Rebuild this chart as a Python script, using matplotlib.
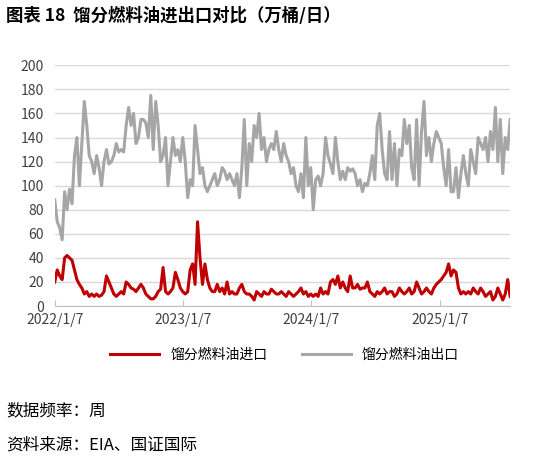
import matplotlib
matplotlib.use("Agg")
import matplotlib.pyplot as plt
import pandas as pd

plt.rcParams['font.family'] = ['Noto Sans CJK SC', 'DejaVu Sans']

year_starts = ["2022-01-07", "2023-01-06", "2024-01-05", "2025-01-03"]
exp_2022 = [88,70,65,55,95,80,97,85,125,140,100,135,170,150,125,120,110,125,115,100,120,130,118,120,125,135,128,130,128,150,165,150,160,135,140,155,155,152,140,175,130,170,150,120,125,140,100,120,140,125,130,120]
exp_2023 = [140,120,90,105,100,150,130,110,115,100,95,100,105,110,100,105,115,112,105,110,105,100,110,90,115,155,100,135,120,150,140,160,130,140,120,130,135,130,145,130,120,135,125,120,110,115,100,95,110,90,140,100]
exp_2024 = [115,80,105,108,100,110,140,125,118,110,140,120,105,112,105,115,112,114,110,100,105,95,102,100,110,125,105,150,160,130,110,105,145,105,135,100,130,125,155,135,150,115,105,155,100,145,170,125,140,120,135,145]
exp_2025 = [140,135,115,100,130,95,95,115,90,110,125,110,100,130,120,110,140,135,130,140,120,145,130,165,120,155,110,140,130,155]
imp_2022 = [20,30,25,22,40,42,40,38,30,22,18,15,10,12,8,10,8,10,8,9,12,25,20,15,10,8,10,12,10,20,18,15,14,12,15,18,15,10,8,6,6,8,12,14,32,12,10,12,15,28,22,15]
imp_2023 = [12,10,12,30,35,18,70,40,18,35,22,15,12,12,18,12,15,10,20,10,12,10,10,15,18,12,10,10,8,5,12,10,8,12,10,10,14,12,10,10,12,10,8,12,10,8,10,12,15,10,12,8]
imp_2024 = [10,8,10,8,15,10,12,10,20,22,18,25,15,20,15,12,25,15,15,18,14,15,15,20,12,10,8,12,10,12,15,10,12,12,8,10,15,12,10,12,15,10,12,20,15,10,12,15,12,10,15,18]
imp_2025 = [20,22,25,28,35,25,30,28,15,10,12,10,12,10,15,12,10,15,12,8,10,12,5,8,15,10,5,10,22,8]
tick_labels = ["2022/1/7", "2023/1/7", "2024/1/7", "2025/1/7"]
series_names = ["馏分燃料油进口", "馏分燃料油出口"]

def build(lists):
    d, v = [], []
    for s, vals in zip(year_starts, lists):
        d += list(pd.date_range(s, periods=len(vals), freq="7D"))
        v += vals
    return d, v

ed, ev = build([exp_2022, exp_2023, exp_2024, exp_2025])
idt, iv = build([imp_2022, imp_2023, imp_2024, imp_2025])

fig = plt.figure(figsize=(5.37, 4.63), dpi=100)
ax = fig.add_axes([0.102, 0.339, 0.848, 0.52])
l1, = ax.plot(idt, iv, color="#C00000", lw=2.2)
l2, = ax.plot(ed, ev, color="#A6A6A6", lw=2.2)
ax.set_ylim(0, 200)
ax.set_yticks(range(0, 201, 20))
ax.set_xlim(pd.Timestamp("2022-01-07"), ed[-1])
ax.set_xticks([pd.Timestamp(t.replace("/", "-")) for t in tick_labels])
ax.set_xticklabels(tick_labels)
ax.grid(axis="y", color="#D9D9D9", lw=1)
ax.set_axisbelow(True)
for s in ["top", "right", "left"]:
    ax.spines[s].set_visible(False)
ax.spines["bottom"].set_color("#BFBFBF")
ax.tick_params(axis="y", length=0, pad=8, labelsize=10, colors="#404040")
ax.tick_params(axis="x", length=4, direction="in", color="#BFBFBF", pad=5, labelsize=10, colors="#404040")
fig.legend([l1, l2], series_names, loc="center", bbox_to_anchor=(0.53, 0.233), ncol=2,
           frameon=False, fontsize=10, handlelength=3.5, columnspacing=2.5)
fig.text(0.012, 0.965, "图表 18  馏分燃料油进出口对比（万桶/日）", fontsize=12.5, fontweight="bold", va="center")
fig.text(0.012, 0.112, "数据频率：周", fontsize=12, va="center")
fig.text(0.012, 0.038, "资料来源：EIA、国证国际", fontsize=12, va="center")
fig.savefig("out.png", dpi=100)
